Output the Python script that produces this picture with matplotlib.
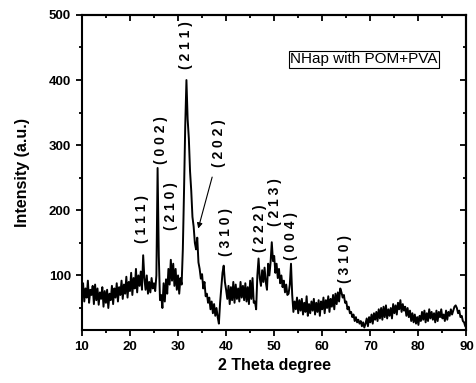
import numpy as np
import matplotlib
matplotlib.use('Agg')
import matplotlib.pyplot as plt

plt.rcParams['font.family'] = ['Liberation Sans', 'DejaVu Sans']

# 2 theta from 10 to 90 in 0.25 degree steps
two_theta = np.arange(10, 90.001, 0.25)

intensity = [
 72, 88, 60, 80,    66, 92, 58, 78,    70, 84, 56, 86,    62, 80, 55, 74,   # 10-13
 64, 82, 52, 76,    58, 78, 50, 72,    62, 84, 56, 80,    66, 88, 60, 82,   # 14-17
 70, 92, 64, 86,    72, 98, 66, 90,    76, 104, 70, 96,   80, 110, 74, 100, # 18-21
 84, 106, 78, 131,  96, 78, 100, 72,   90, 74, 96, 80,    88, 76, 100, 265, # 22-25
 130, 62, 70, 50,   88, 60, 94, 72,    110, 86, 124, 92,  118, 84, 110, 78, # 26-29
 100, 72, 96, 86,   140, 230, 330, 400, 340, 310, 260, 230, 190, 175, 150, 140, # 30-33
 158, 120, 110, 95, 102, 80, 90, 68,   72, 58, 66, 48,    60, 42, 56, 38,   # 34-37
 50, 36, 26, 58,    80, 104, 115, 90,  78, 64, 84, 56,    82, 62, 90, 58,   # 38-41
 86, 64, 80, 60,    90, 66, 84, 62,    88, 60, 82, 56,    92, 64, 96, 58,   # 42-45
 60, 48, 100, 126,  96, 84, 108, 90,   112, 90, 78, 118,  100, 120, 151, 122, # 46-49
 130, 104, 118, 96, 110, 88, 100, 82,  92, 74, 86, 70,    72, 86, 118, 70,  # 50-53
 44, 60, 48, 66,    42, 62, 46, 64,    40, 58, 44, 68,    38, 56, 42, 60,   # 54-57
 46, 64, 40, 58,    44, 62, 38, 60,    48, 66, 42, 62,    50, 68, 44, 64,   # 58-61
 52, 70, 48, 72,    56, 74, 60, 80,    74, 66, 70, 58,    60, 48, 52, 42,   # 62-65
 44, 36, 40, 30,    36, 28, 32, 26,    30, 22, 28, 20,    26, 34, 22, 36,   # 66-69
 28, 40, 26, 42,    32, 44, 30, 48,    34, 50, 32, 52,    36, 54, 34, 48,   # 70-73
 38, 50, 34, 56,    42, 54, 40, 58,    48, 62, 44, 56,    46, 52, 38, 50,   # 74-77
 36, 46, 30, 42,    28, 40, 26, 36,    24, 38, 30, 44,    32, 46, 28, 42,   # 78-81
 30, 48, 34, 44,    32, 42, 28, 46,    30, 44, 36, 48,    34, 40, 30, 46,   # 82-85
 32, 44, 38, 48,    40, 46, 52, 54,    50, 42, 46, 36,    38, 30, 28, 22,   # 86-89
 20,
]

peak_labels = ['( 1 1 1 )', '( 0 0 2 )', '( 2 1 0 )', '( 2 1 1 )', '( 2 0 2 )',
               '( 3 1 0 )', '( 2 2 2 )', '( 2 1 3 )', '( 0 0 4 )', '( 3 1 0 )']
label_x = [22.6, 26.4, 28.6, 31.7, 38.5, 40.0, 47.1, 50.2, 53.5, 64.7]
label_y = [186, 308, 206, 454, 303, 166, 172, 212, 160, 125]

fig = plt.figure(figsize=(4.76, 3.83), dpi=100)
ax = fig.add_axes([0.172, 0.138, 0.808, 0.823])

ax.plot(two_theta, intensity, color='black', lw=1.4)

for lab, lx, ly in zip(peak_labels, label_x, label_y):
    ax.text(lx, ly, lab, rotation=90, ha='center', va='center',
            fontsize=10, fontweight='bold')

ax.annotate('', xy=(34.2, 172), xytext=(37.1, 251),
            arrowprops=dict(arrowstyle='-|>', color='black', lw=0.8,
                            mutation_scale=8, shrinkA=0, shrinkB=0))

ax.text(0.733, 0.86, 'NHap with POM+PVA', transform=ax.transAxes,
        ha='center', va='center', fontsize=11,
        bbox=dict(boxstyle='square,pad=0.1', fc='white', ec='black', lw=0.8))

ax.set_xlim(10, 90)
ax.set_ylim(16, 500)
xt = list(range(10, 91, 10))
xm = list(range(15, 90, 10))
yt = list(range(100, 501, 100))
ym = list(range(50, 500, 100))
ax.set_xticks(xt)
ax.set_xticks(xm, minor=True)
ax.set_yticks(yt)
ax.set_yticks(ym, minor=True)

for lab in ax.get_xticklabels() + ax.get_yticklabels():
    lab.set_fontweight('bold')
ax.tick_params(which='both', labelsize=9.5, width=1.3, direction='out')
ax.tick_params(which='major', length=4.5)
ax.tick_params(which='minor', length=2.5)

# inward ticks on top and right
top = ax.secondary_xaxis('top')
top.set_xticks(xt)
top.set_xticks(xm, minor=True)
top.tick_params(which='both', direction='in', labeltop=False, width=1.3)
top.tick_params(which='major', length=4.5)
top.tick_params(which='minor', length=2.5)
right = ax.secondary_yaxis('right')
right.set_yticks(yt)
right.set_yticks(ym, minor=True)
right.tick_params(which='both', direction='in', labelright=False, width=1.3)
right.tick_params(which='major', length=4.5)
right.tick_params(which='minor', length=2.5)
top.spines['top'].set_linewidth(1.5)
right.spines['right'].set_linewidth(1.5)

for sp in ax.spines.values():
    sp.set_linewidth(1.5)

ax.set_xlabel('2 Theta degree', fontsize=11.5, fontweight='bold')
ax.set_ylabel('Intensity (a.u.)', fontsize=11.5, fontweight='bold')
ax.xaxis.set_label_coords(0.5, -0.089)
ax.yaxis.set_label_coords(-0.136, 0.5)

fig.savefig('out.png', dpi=100)
